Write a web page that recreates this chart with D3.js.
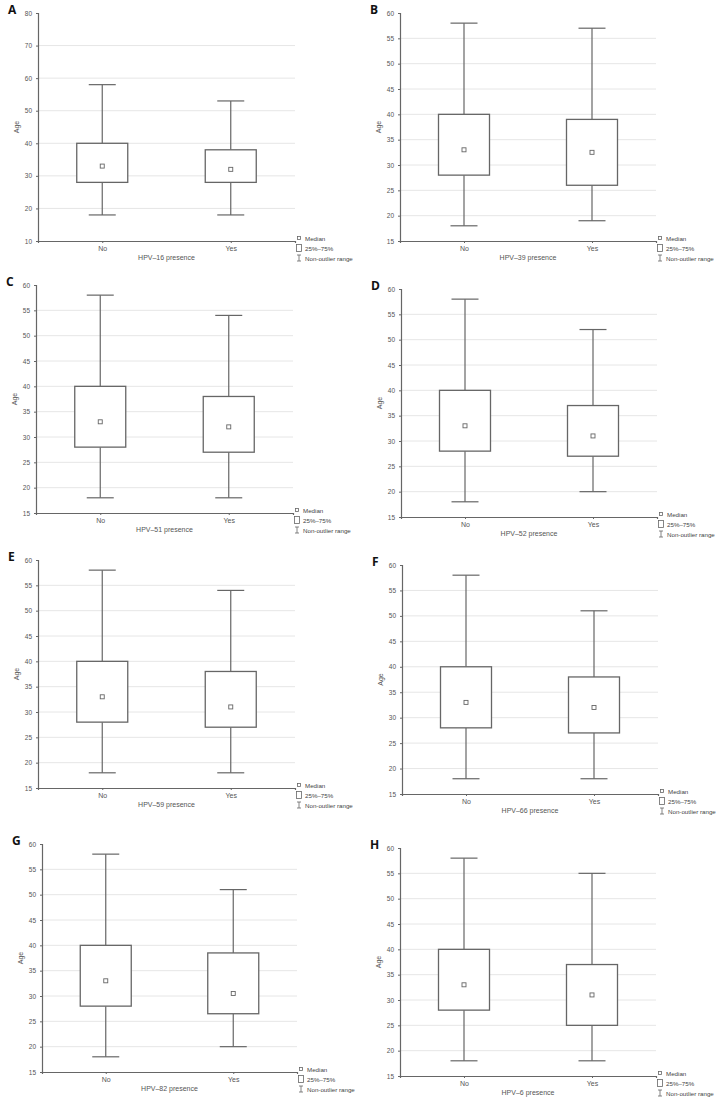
<!DOCTYPE html>
<html>
<head>
<meta charset="utf-8">
<script src="https://cdn.jsdelivr.net/npm/d3@7"></script>
<style>
  html, body { margin: 0; padding: 0; background: #fff; }
  svg { display: block; font-family: "Liberation Sans", Arial, sans-serif; }
  .tick text { fill: #555; font-size: 6.5px; }
  .grid line { stroke: #e6e6e6; }
</style>
</head>
<body>
<svg id="chart" width="722" height="1106"></svg>
<script>
// =========================
// DATI
// =========================
const panelLetters = ["A", "B", "C", "D", "E", "F", "G", "H"];
const hpvTypes = ["16", "39", "51", "52", "59", "66", "82", "6"];
const groups = ["No", "Yes"];

// [min, q1, median, q3, max] - "No" uguale in tutti i pannelli
const noStats = [18, 28, 33, 40, 58];
const yesStats = [
  [18, 28, 32, 38, 53],
  [19, 26, 32.5, 39, 57],
  [18, 27, 32, 38, 54],
  [20, 27, 31, 37, 52],
  [18, 27, 31, 38, 54],
  [18, 27, 32, 38, 51],
  [20, 26.5, 30.5, 38.5, 51],
  [18, 25, 31, 37, 55]
];

const ticksA = [10, 20, 30, 40, 50, 60, 70, 80];
const ticksOther = [15, 20, 25, 30, 35, 40, 45, 50, 55, 60];

const legendLabels = ["Median", "25%\u201375%", "Non-outlier range"];

// posizione dei riquadri (left, top, bottom, right)
const frames = [
  [38, 13, 241, 295],
  [400, 13, 241, 656],
  [36, 285, 513, 293],
  [401, 289, 517, 657],
  [38, 560, 788, 295],
  [402, 565, 794, 658],
  [42, 844, 1072, 297],
  [400, 848, 1076, 656]
];

const svg = d3.select("#chart");
const lineColor = "#666";

panelLetters.forEach((letter, i) => {
  const [left, top, bottom, right] = frames[i];
  const ticks = i === 0 ? ticksA : ticksOther;
  const g = svg.append("g");

  const x = d3.scalePoint().domain(groups).range([left, right]).padding(0.5);
  const y = d3.scaleLinear().domain([ticks[0], ticks[ticks.length - 1]]).range([bottom, top]);

  // griglia
  g.append("g").attr("class", "grid")
    .selectAll("line")
    .data(ticks.slice(1, -1))
    .join("line")
    .attr("x1", left).attr("x2", right)
    .attr("y1", d => y(d)).attr("y2", d => y(d));

  // assi
  const yAxis = g.append("g")
    .attr("transform", `translate(${left},0)`)
    .call(d3.axisLeft(y).tickValues(ticks).tickSize(2).tickPadding(4));
  const xAxis = g.append("g")
    .attr("transform", `translate(0,${bottom})`)
    .call(d3.axisBottom(x).tickSize(2).tickPadding(3));
  [yAxis, xAxis].forEach(a => {
    a.select(".domain").attr("stroke", lineColor).attr("stroke-width", 1.2);
    a.selectAll(".tick line").attr("stroke", lineColor);
  });
  xAxis.selectAll(".tick text").style("font-size", "7px");

  // etichette
  g.append("text")
    .attr("transform", `translate(${left - 19},${(top + bottom) / 2}) rotate(-90)`)
    .attr("text-anchor", "middle")
    .attr("font-size", 7).attr("fill", "#555")
    .text("Age");

  g.append("text")
    .attr("x", (left + right) / 2).attr("y", bottom + 19)
    .attr("text-anchor", "middle")
    .attr("font-size", 7).attr("fill", "#555")
    .text(`HPV\u2013${hpvTypes[i]} presence`);

  g.append("text")
    .attr("x", left - 30).attr("y", top + 1)
    .attr("font-family", "'Open Sans', 'Liberation Sans', sans-serif")
    .attr("font-weight", "bold").attr("font-size", 12).attr("fill", "#111")
    .text(letter);

  // box plot
  const stats = [noStats, yesStats[i]];
  const boxW = 51;
  const capW = 27;

  const boxes = g.selectAll(".box")
    .data(groups.map((grp, k) => ({ grp, s: stats[k] })))
    .join("g")
    .attr("class", "box");

  boxes.append("line")
    .attr("x1", d => x(d.grp)).attr("x2", d => x(d.grp))
    .attr("y1", d => y(d.s[0])).attr("y2", d => y(d.s[1]))
    .attr("stroke", lineColor).attr("stroke-width", 1.2);
  boxes.append("line")
    .attr("x1", d => x(d.grp)).attr("x2", d => x(d.grp))
    .attr("y1", d => y(d.s[3])).attr("y2", d => y(d.s[4]))
    .attr("stroke", lineColor).attr("stroke-width", 1.2);
  [0, 4].forEach(idx => {
    boxes.append("line")
      .attr("x1", d => x(d.grp) - capW / 2).attr("x2", d => x(d.grp) + capW / 2)
      .attr("y1", d => y(d.s[idx])).attr("y2", d => y(d.s[idx]))
      .attr("stroke", lineColor).attr("stroke-width", 1.2);
  });
  boxes.append("rect")
    .attr("x", d => x(d.grp) - boxW / 2)
    .attr("y", d => y(d.s[3]))
    .attr("width", boxW)
    .attr("height", d => y(d.s[1]) - y(d.s[3]))
    .attr("fill", "#fff").attr("stroke", lineColor).attr("stroke-width", 1.3);
  boxes.append("rect")
    .attr("x", d => x(d.grp) - 2)
    .attr("y", d => y(d.s[2]) - 2)
    .attr("width", 4).attr("height", 4)
    .attr("fill", "#fff").attr("stroke", lineColor).attr("stroke-width", 0.9);

  // legenda
  const lx = right + 4;
  const ly = [bottom - 3, bottom + 7, bottom + 17];
  g.append("rect")
    .attr("x", lx - 1.5).attr("y", ly[0] - 1.5).attr("width", 3).attr("height", 3)
    .attr("fill", "#fff").attr("stroke", lineColor).attr("stroke-width", 0.8);
  g.append("rect")
    .attr("x", lx - 2.5).attr("y", ly[1] - 3.5).attr("width", 5).attr("height", 7)
    .attr("fill", "#fff").attr("stroke", lineColor).attr("stroke-width", 0.8);
  g.append("path")
    .attr("d", `M${lx - 2},${ly[2] - 3}H${lx + 2}M${lx},${ly[2] - 3}V${ly[2] + 3}M${lx - 2},${ly[2] + 3}H${lx + 2}`)
    .attr("stroke", lineColor).attr("stroke-width", 0.8).attr("fill", "none");
  g.selectAll(".leg")
    .data(legendLabels)
    .join("text")
    .attr("x", lx + 6).attr("y", (d, k) => ly[k] + 2.5)
    .attr("font-size", 6.2).attr("fill", "#444")
    .text(d => d);
});
</script>
</body>
</html>
